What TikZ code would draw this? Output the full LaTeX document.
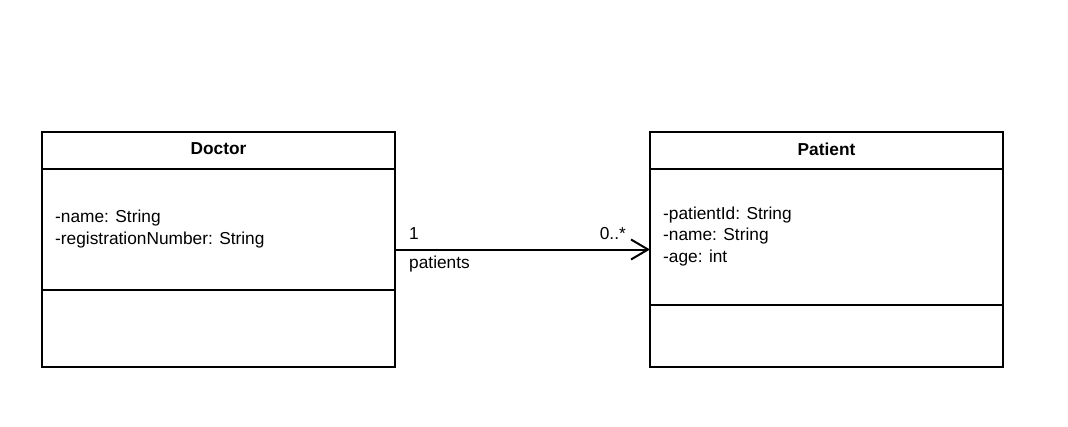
\documentclass[tikz,border=0pt]{standalone}
\usepackage{fontspec}
\setmainfont{Liberation Sans}
\usetikzlibrary{arrows.meta}
\begin{document}
\begin{tikzpicture}[x=1pt,y=-1pt,
  classbox/.style={draw=black,line width=1.8pt,minimum width=353pt,minimum height=235pt,inner sep=0pt,outer sep=0pt},
  sepline/.style={draw=black,line width=1.8pt},
  title/.style={font=\fontsize{17.3}{20}\selectfont\bfseries,inner sep=0pt},
  attr/.style={font=\fontsize{17.3}{21.7}\selectfont,inner sep=0pt,anchor=west,align=left},
  lab/.style={font=\fontsize{17.3}{20}\selectfont,inner sep=0pt},
  assoc/.style={draw=black,line width=2pt,-{Straight Barb[length=17pt,width=20pt,line width=2pt]}}]
\useasboundingbox[fill=white] (0,0) rectangle (1068,426);
% Doctor
\node[classbox] (doctor) at (218.5,249.5) {};
\node[title] (doctorname) at (218.5,149) {Doctor};
\coordinate (dh1) at (42,169);
\coordinate (dh2) at (395,169);
\coordinate (ds1) at (42,290);
\coordinate (ds2) at (395,290);
\draw[sepline] (dh1) -- (dh2);
\draw[sepline] (ds1) -- (ds2);
\node[attr] (doctorattr) at (55,229) {-name: String\\-registrationNumber: String};
% Patient
\node[classbox] (patient) at (826.5,249.5) {};
\node[title] (patientname) at (826.5,149) {Patient};
\coordinate (ph1) at (650,169);
\coordinate (ph2) at (1003,169);
\coordinate (ps1) at (650,305);
\coordinate (ps2) at (1003,305);
\draw[sepline] (ph1) -- (ph2);
\draw[sepline] (ps1) -- (ps2);
\node[attr] (patientattr) at (663,236.5) {-patientId: String\\-name: String\\-age: int};
% association
\draw[assoc] (doctor.east) -- (patient.west);
\node[lab,anchor=west] (m1) at (409,234) {1};
\node[lab,anchor=east] (m2) at (626,234) {0..*};
\node[lab,anchor=west] (role) at (409,264) {patients};
\end{tikzpicture}
\end{document}
